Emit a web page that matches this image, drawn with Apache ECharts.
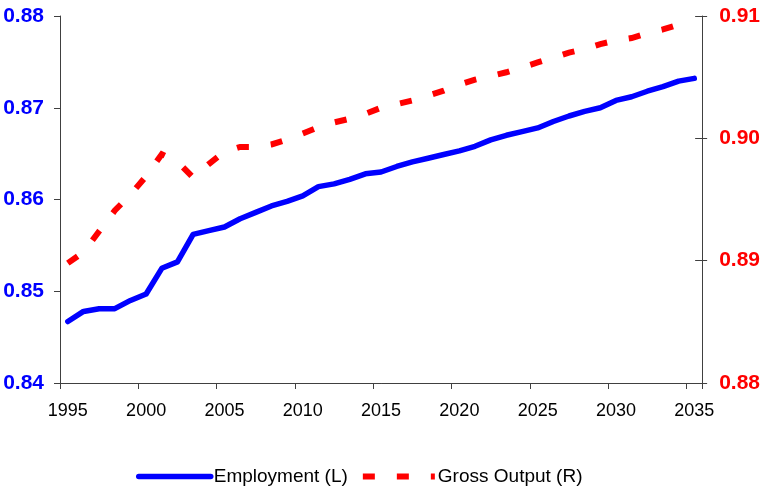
<!DOCTYPE html>
<html>
<head>
<meta charset="utf-8">
<script src="https://cdn.jsdelivr.net/npm/echarts@6/dist/echarts.min.js"></script>
<style>
html,body{margin:0;padding:0;background:#fff;}
#chart{width:763px;height:491px;}
</style>
</head>
<body>
<div id="chart"></div>
<script>
const years = [];
for (let y = 1995; y <= 2035; y++) years.push(String(y));

const employment = [
  0.8467, 0.8478, 0.8481, 0.8481, 0.8490, 0.8497, 0.8525, 0.8532, 0.8562, 0.8566,
  0.8570, 0.8579, 0.8586, 0.8593, 0.8598, 0.8604, 0.8614, 0.8617, 0.8622, 0.8628,
  0.8630, 0.8636, 0.8641, 0.8645, 0.8649, 0.8653, 0.8658, 0.8665, 0.8670, 0.8674,
  0.8678, 0.8685, 0.8691, 0.8696, 0.8700, 0.8708, 0.8712, 0.8718, 0.8723, 0.8729,
  0.8732
];

const grossOutput = [
  0.8898, 0.8907, 0.8924, 0.8941, 0.8954, 0.8969, 0.8987, 0.8981, 0.8968, 0.8979,
  0.8989, 0.8993, 0.8993, 0.8995, 0.8999, 0.9004, 0.9009, 0.9013, 0.9016, 0.9020,
  0.9025, 0.9028, 0.9031, 0.9035, 0.9039, 0.9044, 0.9048, 0.9051, 0.9054, 0.9058,
  0.9062, 0.9066, 0.9070, 0.9073, 0.9077, 0.9080, 0.9082, 0.9086, 0.9089, 0.9093,
  0.9096
];

const leftTicks = { min: 0.84, max: 0.88, interval: 0.01 };
const rightTicks = { min: 0.88, max: 0.91, interval: 0.01 };
const seriesNames = ['Employment (L)', 'Gross Output (R)'];

const chart = echarts.init(document.getElementById('chart'), null, { renderer: 'canvas' });
const axisColor = '#404040';
const font = '"Liberation Sans", Arial, sans-serif';

chart.setOption({
  animation: false,
  backgroundColor: '#ffffff',
  grid: { left: 60, right: 58, top: 16, bottom: 108, containLabel: false },
  legend: {
    data: seriesNames,
    left: 136,
    top: 467,
    padding: 0,
    itemWidth: 72,
    itemHeight: 14,
    itemGap: 12,
    itemStyle: { opacity: 0 },
    lineStyle: { width: 'inherit' },
    textStyle: { fontFamily: font, fontSize: 19, color: '#000', padding: [0, 0, 0, -2] }
  },
  xAxis: {
    type: 'category',
    data: years,
    boundaryGap: true,
    axisLine: { lineStyle: { color: axisColor, width: 1 } },
    axisTick: { show: true, interval: 4, length: 6, lineStyle: { color: axisColor } },
    axisLabel: { interval: 4, margin: 19, fontFamily: font, fontSize: 18, color: '#000' },
    splitLine: { show: false }
  },
  yAxis: [
    {
      type: 'value',
      position: 'left',
      min: leftTicks.min, max: leftTicks.max, interval: leftTicks.interval,
      axisLine: { show: true, lineStyle: { color: axisColor, width: 1 } },
      axisTick: { show: true, length: 6, lineStyle: { color: axisColor } },
      axisLabel: { margin: 16, fontFamily: font, fontSize: 21, fontWeight: 'bold', color: '#0000FF',
        formatter: v => v.toFixed(2) },
      splitLine: { show: false }
    },
    {
      type: 'value',
      position: 'right',
      min: rightTicks.min, max: rightTicks.max, interval: rightTicks.interval,
      axisLine: { show: true, lineStyle: { color: axisColor, width: 1 } },
      axisTick: { show: true, length: 5, lineStyle: { color: axisColor } },
      axisLabel: { margin: 17, fontFamily: font, fontSize: 21, fontWeight: 'bold', color: '#FF0000',
        formatter: v => v.toFixed(2) },
      splitLine: { show: false }
    },
    {
      type: 'value',
      position: 'right',
      min: rightTicks.min, max: rightTicks.max, interval: rightTicks.interval,
      axisLine: { show: false },
      axisTick: { show: true, inside: true, length: 7, lineStyle: { color: axisColor } },
      axisLabel: { show: false },
      splitLine: { show: false }
    }
  ],
  series: [
    {
      name: seriesNames[0],
      type: 'line',
      yAxisIndex: 0,
      data: employment,
      showSymbol: false,
      symbol: 'none',
      color: '#0000FF',
      lineStyle: { color: '#0000FF', width: 5.5, cap: 'round', join: 'round' }
    },
    {
      name: seriesNames[1],
      type: 'line',
      yAxisIndex: 1,
      data: grossOutput,
      showSymbol: false,
      symbol: 'none',
      color: '#FF0000',
      lineStyle: { color: '#FF0000', width: 6, type: [12, 22], cap: 'butt', join: 'miter' }
    }
  ]
});
</script>
</body>
</html>
